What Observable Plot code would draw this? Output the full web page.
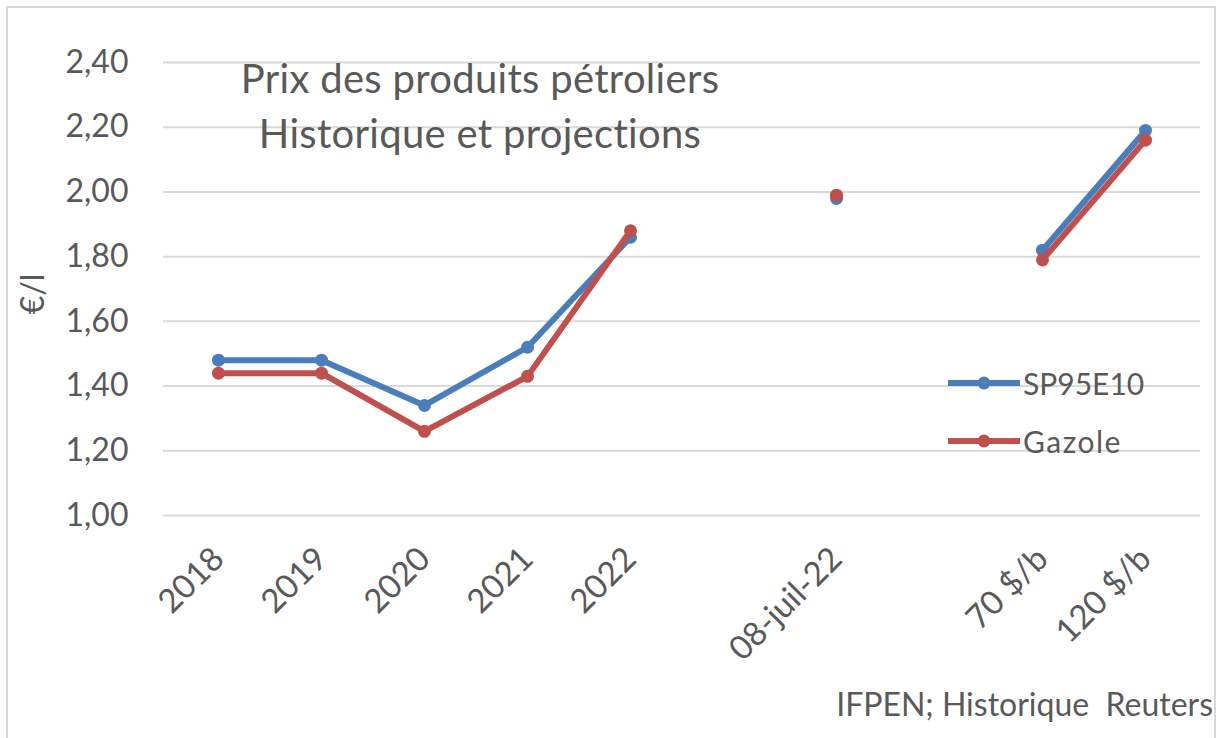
<!DOCTYPE html>
<html>
<head>
<meta charset="utf-8">
<script src="https://cdn.jsdelivr.net/npm/d3@7"></script>
<script src="https://cdn.jsdelivr.net/npm/@observablehq/plot@0.6"></script>
<style>
  html, body { margin: 0; padding: 0; background: #fff; }
  body { font-family: Lato, "Open Sans", sans-serif; color: #595959; }
  #wrap { position: relative; width: 1219px; height: 738px; overflow: hidden; }
  #border { position: absolute; left: 6px; top: 6px; width: 1210px; height: 760px; border: 2px solid #d9d9d9; box-sizing: border-box; }
  #chart { position: absolute; left: 0; top: 0; }
  .title { position: absolute; left: 180px; width: 600px; text-align: center; font-size: 40px; letter-spacing: 0.3px; white-space: nowrap; line-height: 44px; }
  #ylabel { position: absolute; left: 31px; top: 294px; font-size: 32px; transform: translate(-50%, -50%) rotate(-90deg); white-space: nowrap; }
  #legend { position: absolute; left: 948px; top: 365px; font-size: 30px; }
  .row { display: flex; align-items: center; height: 36px; margin-bottom: 22px; }
  .row svg { margin-right: 3px; }
  #gz { letter-spacing: 1.5px; }
  #caption { position: absolute; right: 6px; top: 684px; font-size: 32px; white-space: pre; }
</style>
</head>
<body>
<div id="wrap">
  <div id="border"></div>
  <div id="chart"></div>
  <div class="title" style="top:56px">Prix des produits pétroliers</div>
  <div class="title" style="top:111px">Historique et projections</div>
  <div id="ylabel">€/l</div>
  <div id="legend"></div>
  <div id="caption">IFPEN; Historique  Reuters</div>
</div>
<script>
// Categories (blank entries are empty slots on the category axis)
const categories = ["2018", "2019", "2020", "2021", "2022", " ", "08-juil-22", "  ", "70 $/b", "120 $/b"];
const sp95e10 = [1.48, 1.48, 1.34, 1.52, 1.86, null, 1.98, null, 1.82, 2.19];
const gazole  = [1.44, 1.44, 1.26, 1.43, 1.88, null, 1.99, null, 1.79, 2.16];
const yTicks = [1.0, 1.2, 1.4, 1.6, 1.8, 2.0, 2.2, 2.4];
const seriesNames = ["SP95E10", "Gazole"];
const seriesColors = ["#4a7ebb", "#c0504d"];

const seriesValues = [sp95e10, gazole];
const data = seriesNames.flatMap((name, s) =>
  categories.map((c, i) => ({series: name, cat: c, value: seriesValues[s][i]}))
);

const lineMarks = seriesNames.flatMap((name, s) => {
  const rows = data.filter(d => d.series === name);
  return [
    Plot.line(rows, {x: "cat", y: "value", stroke: seriesColors[s], strokeWidth: 6, curve: "linear"}),
    Plot.dot(rows.filter(d => d.value != null), {x: "cat", y: "value", r: 6.5, fill: seriesColors[s], stroke: "none"})
  ];
});

const chart = Plot.plot({
  width: 1219,
  height: 738,
  marginLeft: 163,
  marginRight: 19,
  marginTop: 62,
  marginBottom: 223,
  style: {fontFamily: "Lato, 'Open Sans', sans-serif", color: "#595959", background: "transparent", overflow: "visible"},
  x: {type: "point", domain: categories, padding: 0.5},
  y: {domain: [1.0, 2.4]},
  marks: [
    Plot.gridY(yTicks, {stroke: "#d9d9d9", strokeOpacity: 1, strokeWidth: 2}),
    Plot.axisY(yTicks, {tickSize: 0, tickPadding: 35, fontSize: 32, label: null,
      tickFormat: d => d.toFixed(2).replace(".", ",")}),
    Plot.axisX({tickSize: 0, tickPadding: 38, tickRotate: -45, fontSize: 33, label: null,
      tickFormat: d => d.trim()}),
    ...lineMarks
  ]
});
document.getElementById("chart").appendChild(chart);

// Legend
const legend = document.getElementById("legend");
seriesNames.forEach((name, s) => {
  const row = document.createElement("div");
  row.className = "row";
  row.innerHTML = `<svg width="72" height="20"><line x1="0" y1="10" x2="72" y2="10" stroke="${seriesColors[s]}" stroke-width="6"/><circle cx="36" cy="10" r="6.5" fill="${seriesColors[s]}"/></svg><span${s === 1 ? ' id="gz"' : ''}>${name}</span>`;
  legend.appendChild(row);
});
</script>
</body>
</html>
